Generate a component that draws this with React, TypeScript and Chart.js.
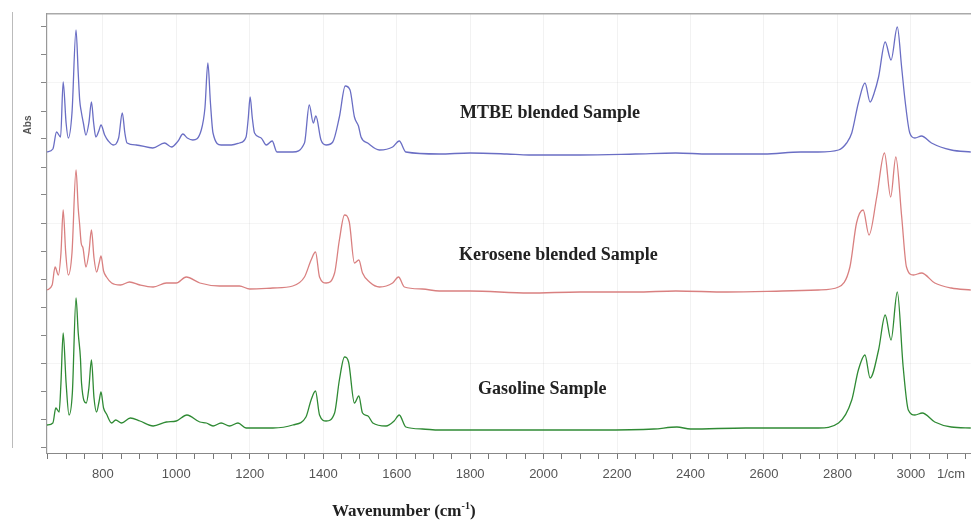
import React, { useEffect, useRef } from 'react';
import { Chart, registerables } from 'chart.js';

Chart.register(...registerables);

// Wavenumber range (1/cm) and absorbance axis (stacked, arbitrary units)
const xMin = 648;
const xMax = 3163;
const yMin = 0;
const yMax = 4.39;

const xMajorTicks = [800, 1000, 1200, 1400, 1600, 1800, 2000, 2200, 2400, 2600, 2800, 3000];
const xMinorTicks = [
  650, 700, 750, 800, 850, 900, 950, 1000, 1050, 1100, 1150, 1200, 1250, 1300, 1350, 1400, 1450,
  1500, 1550, 1600, 1650, 1700, 1750, 1800, 1850, 1900, 1950, 2000, 2050, 2100, 2150, 2200, 2250,
  2300, 2350, 2400, 2450, 2500, 2550, 2600, 2650, 2700, 2750, 2800, 2850, 2900, 2950, 3000, 3050,
  3100, 3150,
];
const yMajorTicks = [0.2, 0.9, 1.6, 2.3, 3.0, 3.7];
const yTicks = [
  0.06, 0.2, 0.34, 0.48, 0.62, 0.76, 0.9, 1.04, 1.18, 1.32, 1.46, 1.6, 1.74, 1.88, 2.02, 2.16, 2.3,
  2.44, 2.58, 2.72, 2.86, 3.0, 3.14, 3.28, 3.42, 3.56, 3.7, 3.84, 3.98, 4.12, 4.26,
];

const seriesNames = ['MTBE blended Sample', 'Kerosene blended Sample', 'Gasoline Sample'];

const mtbeSpectrum: [number, number][] = [
  [648, 3.01], [664, 3.04], [674, 3.21], [685, 3.16], [692, 3.71], [700, 3.3], [706, 3.15], [716, 3.4],
  [727, 4.23], [733, 3.8], [737, 3.53], [741, 3.42], [747, 3.3], [754, 3.18], [762, 3.3], [769, 3.51],
  [775, 3.3], [781, 3.16], [789, 3.22], [795, 3.28], [805, 3.18], [815, 3.12], [828, 3.08], [843, 3.15],
  [853, 3.4], [860, 3.2], [866, 3.1], [891, 3.08], [936, 3.05], [968, 3.1], [987, 3.06], [1005, 3.12],
  [1018, 3.19], [1030, 3.15], [1045, 3.13], [1068, 3.23], [1078, 3.45], [1086, 3.9], [1093, 3.5],
  [1100, 3.2], [1122, 3.08], [1150, 3.08], [1172, 3.1], [1190, 3.16], [1196, 3.35], [1201, 3.56],
  [1207, 3.35], [1213, 3.2], [1231, 3.15], [1245, 3.08], [1261, 3.12], [1274, 3.01], [1317, 3.01],
  [1349, 3.1], [1362, 3.48], [1373, 3.3], [1380, 3.37], [1394, 3.13], [1408, 3.08], [1426, 3.11],
  [1444, 3.36], [1460, 3.67], [1473, 3.63], [1485, 3.36], [1496, 3.27], [1503, 3.16], [1521, 3.1],
  [1553, 3.03], [1589, 3.06], [1607, 3.12], [1625, 3.01], [1716, 2.99], [1800, 3.0], [1900, 2.99],
  [1960, 2.98], [2100, 2.98], [2250, 2.99], [2360, 3.0], [2450, 2.99], [2600, 2.99], [2700, 3.01],
  [2748, 3.01], [2803, 3.03], [2825, 3.1], [2839, 3.2], [2857, 3.5], [2875, 3.7], [2889, 3.51],
  [2900, 3.6], [2912, 3.76], [2930, 4.11], [2946, 3.93], [2963, 4.26], [2975, 3.85], [2984, 3.53],
  [2997, 3.2], [3011, 3.15], [3029, 3.17], [3056, 3.1], [3110, 3.03], [3164, 3.01],
];

const keroseneSpectrum: [number, number][] = [
  [648, 1.63], [662, 1.68], [670, 1.86], [679, 1.78], [686, 2.0], [692, 2.43], [699, 2.0], [706, 1.78],
  [716, 2.0], [727, 2.83], [733, 2.45], [737, 2.28], [741, 2.1], [746, 2.05], [754, 1.86], [762, 2.0],
  [769, 2.23], [776, 1.95], [783, 1.81], [790, 1.9], [795, 1.97], [802, 1.82], [810, 1.76], [824, 1.7],
  [848, 1.68], [873, 1.71], [901, 1.68], [937, 1.66], [973, 1.7], [1000, 1.7], [1027, 1.76],
  [1064, 1.7], [1118, 1.67], [1172, 1.67], [1200, 1.64], [1263, 1.65], [1317, 1.67], [1349, 1.76],
  [1367, 1.93], [1379, 2.01], [1390, 1.76], [1408, 1.7], [1431, 1.8], [1444, 2.13], [1458, 2.38],
  [1471, 2.31], [1485, 1.9], [1497, 1.93], [1507, 1.8], [1526, 1.71], [1553, 1.66], [1589, 1.7],
  [1605, 1.76], [1621, 1.66], [1670, 1.64], [1716, 1.62], [1800, 1.62], [1960, 1.6], [2100, 1.61],
  [2250, 1.61], [2360, 1.62], [2500, 1.61], [2650, 1.62], [2748, 1.63], [2803, 1.66], [2834, 1.86],
  [2852, 2.3], [2870, 2.43], [2886, 2.18], [2907, 2.56], [2928, 3.0], [2945, 2.56], [2959, 2.96],
  [2975, 2.36], [2988, 1.86], [3007, 1.78], [3029, 1.8], [3065, 1.7], [3110, 1.65], [3164, 1.63],
];

const gasolineSpectrum: [number, number][] = [
  [648, 0.28], [664, 0.3], [672, 0.45], [681, 0.41], [686, 0.7], [692, 1.2], [700, 0.7], [708, 0.38],
  [717, 0.6], [727, 1.55], [733, 1.2], [739, 0.95], [742, 0.7], [755, 0.5], [762, 0.65], [769, 0.93],
  [776, 0.55], [783, 0.41], [790, 0.52], [795, 0.61], [802, 0.45], [810, 0.39], [824, 0.3], [835, 0.33],
  [851, 0.3], [875, 0.35], [901, 0.32], [937, 0.27], [973, 0.31], [1000, 0.32], [1029, 0.38],
  [1064, 0.31], [1082, 0.3], [1100, 0.27], [1122, 0.3], [1145, 0.27], [1168, 0.3], [1190, 0.25],
  [1263, 0.25], [1317, 0.28], [1353, 0.36], [1367, 0.53], [1379, 0.62], [1390, 0.38], [1408, 0.32],
  [1431, 0.4], [1444, 0.73], [1458, 0.96], [1469, 0.91], [1485, 0.5], [1497, 0.57], [1507, 0.4],
  [1522, 0.37], [1535, 0.3], [1571, 0.27], [1593, 0.32], [1607, 0.38], [1625, 0.26], [1670, 0.24],
  [1716, 0.23], [1850, 0.23], [2000, 0.23], [2150, 0.23], [2300, 0.24], [2363, 0.26], [2400, 0.24],
  [2550, 0.25], [2650, 0.25], [2748, 0.25], [2803, 0.3], [2839, 0.53], [2857, 0.83], [2875, 0.98],
  [2889, 0.75], [2912, 1.03], [2930, 1.38], [2946, 1.13], [2963, 1.61], [2979, 0.86], [2993, 0.43],
  [3011, 0.38], [3031, 0.4], [3065, 0.31], [3110, 0.26], [3164, 0.25],
];

const seriesColors = ['#6a6ec4', '#d98080', '#2f8a34'];

const near = (a: number, list: number[]) => list.some((v) => Math.abs(v - a) < 1e-6);

export default function App() {
  const canvasRef = useRef<HTMLCanvasElement | null>(null);

  useEffect(() => {
    const canvas = canvasRef.current;
    if (!canvas) return;
    const spectra = [mtbeSpectrum, keroseneSpectrum, gasolineSpectrum];
    const chart = new Chart(canvas, {
      type: 'line',
      data: {
        datasets: spectra.map((s, i) => ({
          label: seriesNames[i],
          data: s.map(([x, y]) => ({ x, y })),
          borderColor: seriesColors[i],
          borderWidth: 1.3,
          pointRadius: 0,
          fill: false,
          cubicInterpolationMode: 'monotone' as const,
        })),
      },
      options: {
        animation: false,
        responsive: false,
        devicePixelRatio: 1,
        layout: { padding: { top: 14, left: 0, right: 0, bottom: 0 } },
        plugins: { legend: { display: false }, tooltip: { enabled: false } },
        scales: {
          x: {
            type: 'linear',
            position: 'bottom',
            min: xMin,
            max: xMax,
            afterBuildTicks: (axis: any) => {
              axis.ticks = xMinorTicks.map((v) => ({ value: v }));
            },
            afterFit: (s: any) => {
              s.height = 69;
            },
            ticks: {
              autoSkip: false,
              maxRotation: 0,
              padding: 8,
              color: '#555',
              font: { family: 'Liberation Sans', size: 13 },
              callback: (v: any) => (near(Number(v), xMajorTicks) ? String(v) : ''),
            },
            grid: {
              color: (ctx: any) =>
                ctx.tick && near(ctx.tick.value, xMajorTicks) ? 'rgba(0,0,0,0.05)' : 'rgba(0,0,0,0)',
              tickColor: '#777',
              tickLength: 6,
            },
            border: { color: '#888', width: 1 },
          },
          x2: {
            type: 'linear',
            position: 'top',
            min: xMin,
            max: xMax,
            afterFit: (s: any) => {
              s.height = 0;
            },
            ticks: { display: false },
            grid: { drawOnChartArea: false, drawTicks: false },
            border: { color: '#aaa', width: 1.5 },
          },
          y: {
            type: 'linear',
            min: yMin,
            max: yMax,
            afterBuildTicks: (axis: any) => {
              axis.ticks = yTicks.map((v) => ({ value: v }));
            },
            afterFit: (s: any) => {
              s.width = 47;
            },
            ticks: { callback: () => '', padding: 0 },
            grid: {
              color: (ctx: any) =>
                ctx.tick && near(ctx.tick.value, yMajorTicks) ? 'rgba(0,0,0,0.04)' : 'rgba(0,0,0,0)',
              tickColor: '#888',
              tickLength: 6,
            },
            border: { color: '#999', width: 1.2 },
          },
        },
      },
    });
    return () => chart.destroy();
  }, []);

  const labelStyle: React.CSSProperties = {
    position: 'absolute',
    fontFamily: '"Liberation Serif", serif',
    fontWeight: 'bold',
    fontSize: 18,
    lineHeight: 1,
    color: '#222',
    whiteSpace: 'nowrap',
  };

  return (
    <div
      style={{
        position: 'fixed',
        left: 0,
        top: 0,
        width: 974,
        height: 522,
        background: '#fff',
        overflow: 'hidden',
      }}
    >
      <canvas ref={canvasRef} width={974} height={522} style={{ position: 'absolute', left: 0, top: 0 }} />
      <div style={{ position: 'absolute', left: 12, top: 12, width: 1, height: 436, background: '#bbb' }} />
      <div style={{ ...labelStyle, left: 460, top: 103 }}>{seriesNames[0]}</div>
      <div style={{ ...labelStyle, left: 459, top: 245 }}>{seriesNames[1]}</div>
      <div style={{ ...labelStyle, left: 478, top: 379 }}>{seriesNames[2]}</div>
      <div style={{ ...labelStyle, fontSize: 17, left: 332, top: 501 }}>
        Wavenumber (cm<sup style={{ fontSize: 10 }}>-1</sup>)
      </div>
      <div
        style={{
          position: 'absolute',
          left: 27,
          top: 125,
          transform: 'translate(-50%, -50%) rotate(-90deg)',
          fontFamily: '"Liberation Sans", sans-serif',
          fontWeight: 'bold',
          fontSize: 10,
          color: '#555',
        }}
      >
        Abs
      </div>
      <div
        style={{
          position: 'absolute',
          left: 937,
          top: 467,
          fontFamily: '"Liberation Sans", sans-serif',
          fontSize: 13,
          lineHeight: 1,
          color: '#555',
        }}
      >
        1/cm
      </div>
    </div>
  );
}
